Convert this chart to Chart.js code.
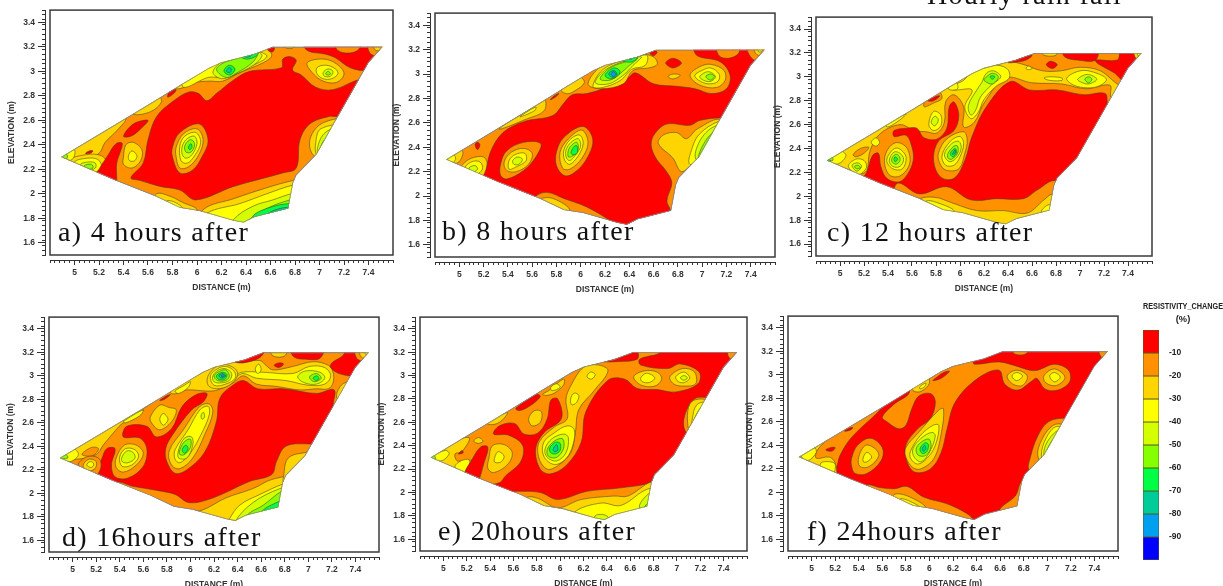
<!DOCTYPE html>
<html><head><meta charset="utf-8"><title>Resistivity change after rain fall</title>
<script src="https://cdn.jsdelivr.net/npm/chart.js@4"></script>
<style>
html,body{margin:0;padding:0;background:#fff;overflow:hidden;width:1223px;height:586px}
canvas{position:absolute;display:block;filter:blur(0.4px)}
.lab{position:absolute;font-family:"Liberation Serif",serif;font-size:28px;line-height:28px;color:#111;white-space:nowrap;letter-spacing:1.3px}
</style></head><body>
<script>
// ---------- scales and legend ----------
const xTicks = [5,5.2,5.4,5.6,5.8,6,6.2,6.4,6.6,6.8,7,7.2,7.4];
const yTicks = [1.6,1.8,2,2.2,2.4,2.6,2.8,3,3.2,3.4];
const legendTicks = [-10,-20,-30,-40,-50,-60,-70,-80,-90];
const levelColors = ['#ff0000','#ff9000','#ffd500','#ffff00','#d4ff00','#86ff00','#00ff44','#00cc99','#00a0f0','#0000ff'];
const legendBands = [-10,-10,-10,-10,-10,-10,-10,-10,-10,-10];
// survey outline (distance, elevation)
const hull = [4.89,2.3, 5.33,2.11, 5.66,1.98, 5.86,1.885, 6.02,1.86, 6.3,1.78, 6.38,1.765, 6.47,1.81, 6.745,1.88, 6.785,2.09, 6.81,2.15, 6.975,2.32, 7.15,2.63, 7.4,3.07, 7.515,3.2, 6.62,3.2, 6.46,3.14, 6.2,3.075, 6.1,3.03, 5.9,2.91, 5.59,2.72];
// ---------- contour bands per panel: [level index, [distance, elevation, ...]] ----------
const panelA = [
[1,hull],
[2,[4.85,2.27,5.06,2.27,5.2,2.33,5.25,2.42,5.35,2.52,5.42,2.62,5.3,2.65,5.0,2.45]],
[2,[4.95,2.27,5.1,2.32,5.22,2.31,5.27,2.24,5.22,2.16,5.05,2.18]],
[3,[5.0,2.26,5.1,2.29,5.19,2.28,5.22,2.22,5.15,2.17,5.05,2.2]],
[4,[5.05,2.24,5.12,2.26,5.17,2.25,5.17,2.21,5.1,2.19]],
[5,[5.08,2.23,5.14,2.24,5.15,2.21,5.1,2.2]],
[3,[4.88,2.28,4.98,2.28,5.0,2.36,4.92,2.36]],
[5,[4.86,2.3,4.93,2.33,4.94,2.29]],
[0,[5.09,2.33,5.12,2.35,5.15,2.35,5.13,2.33]],
[2,[5.48,2.65,5.62,2.67,5.71,2.75,5.68,2.8,5.5,2.72]],
[0,[5.46,2.13,5.56,2.25,5.6,2.44,5.67,2.63,5.81,2.76,5.93,2.83,6.01,2.82,6.08,2.76,6.16,2.82,6.3,2.93,6.43,3.0,6.69,3.03,6.7,3.1,6.76,3.12,6.81,3.09,6.78,3.01,6.85,2.97,6.97,2.87,7.11,2.85,7.35,2.94,7.65,2.94,7.5,2.63,7.15,2.63,7.07,2.63,6.92,2.57,6.84,2.44,6.81,2.21,6.7,2.17,6.3,2.06,5.99,1.95,5.86,2.03,5.7,2.06,5.53,2.11]],
[0,[5.18,2.15,5.33,2.06,5.345,2.25,5.39,2.41,5.34,2.41,5.27,2.31,5.2,2.2]],
[0,[5.4,2.47,5.48,2.57,5.6,2.6,5.54,2.53,5.46,2.47]],
[2,[5.4,2.3,5.42,2.4,5.48,2.42,5.55,2.36,5.54,2.27,5.47,2.21,5.4,2.24]],
[3,[5.44,2.31,5.47,2.35,5.51,2.31,5.49,2.27,5.45,2.27]],
[1,[5.8,2.38,5.86,2.5,6.02,2.57,6.09,2.44,6.04,2.3,5.96,2.19,5.86,2.17,5.8,2.3]],
[2,[5.83,2.38,5.89,2.49,6.0,2.53,6.05,2.44,6.01,2.31,5.93,2.22,5.86,2.21,5.83,2.3]],
[3,[5.86,2.39,5.9,2.47,5.99,2.5,6.03,2.42,5.98,2.31,5.92,2.25,5.87,2.27]],
[4,[5.88,2.39,5.92,2.45,5.98,2.47,6.0,2.41,5.96,2.32,5.91,2.29,5.88,2.32]],
[5,[5.9,2.39,5.94,2.44,5.97,2.43,5.98,2.39,5.95,2.34,5.91,2.34]],
[6,[5.93,2.38,5.95,2.41,5.96,2.38,5.94,2.36]],
[2,[6.9,3.07,7.03,3.1,7.14,3.06,7.2,2.98,7.14,2.91,7.03,2.92,6.94,2.99]],
[3,[6.98,3.03,7.05,3.05,7.13,3.02,7.15,2.98,7.1,2.94,7.03,2.94,6.98,2.98]],
[4,[7.03,2.99,7.07,3.02,7.11,3.0,7.09,2.96,7.04,2.96]],
[5,[7.05,2.98,7.07,3.0,7.09,2.98,7.07,2.97]],
[0,[6.87,3.25,6.9,3.17,7.05,3.14,7.13,3.11,7.25,3.03,7.39,3.01,7.6,3.1,7.6,3.25]],
[1,[7.13,3.25,7.15,3.17,7.25,3.15,7.32,3.18,7.34,3.25]],
[1,[7.4,3.25,7.42,3.14,7.55,3.14,7.55,3.25]],
[2,[7.44,3.25,7.46,3.17,7.55,3.2,7.53,3.25]],
[2,[5.83,2.86,5.99,2.91,6.1,2.92,6.21,2.92,6.35,2.99,6.54,3.07,6.61,3.13,6.55,3.2,6.3,3.25,5.8,3.0]],
[3,[5.89,2.87,6.09,2.95,6.19,2.95,6.3,2.97,6.42,3.03,6.57,3.12,6.49,3.17,6.3,3.25,5.9,3.0]],
[4,[6.13,2.99,6.2,2.94,6.3,2.97,6.46,3.05,6.53,3.13,6.46,3.17,6.3,3.13,6.19,3.07]],
[5,[6.16,3.01,6.24,2.95,6.33,2.99,6.45,3.07,6.49,3.14,6.38,3.13,6.3,3.1,6.2,3.06]],
[6,[6.22,3.0,6.27,2.97,6.31,3.02,6.26,3.05]],
[7,[6.24,3.0,6.27,2.99,6.28,3.02,6.26,3.03]],
[6,[6.36,3.12,6.42,3.1,6.5,3.14,6.48,3.17,6.4,3.17]],
[7,[6.39,3.12,6.43,3.12,6.46,3.15,6.4,3.15]],
[0,[5.76,2.79,5.8,2.81,5.83,2.85,5.78,2.84]],
[0,[6.58,3.17,6.62,3.16,6.63,3.2,6.58,3.2]],
[2,[6.7,3.22,6.73,3.19,6.78,3.19,6.8,3.22]],
[2,[5.67,2.0,5.78,1.98,5.88,1.93,6.0,1.87,5.9,1.8,5.65,1.9]],
[3,[5.75,1.94,5.82,1.93,5.88,1.88,5.75,1.86]],
[2,[6.05,1.87,6.3,1.96,6.54,2.04,6.79,2.11,6.85,2.11,6.85,1.7,6.0,1.7]],
[3,[6.08,1.84,6.35,1.92,6.57,2.0,6.78,2.07,6.85,2.07,6.85,1.7,6.0,1.7]],
[4,[6.3,1.79,6.46,1.9,6.62,1.95,6.77,2.0,6.85,2.0,6.85,1.7,6.3,1.7]],
[5,[6.41,1.77,6.55,1.87,6.76,1.95,6.85,1.95,6.85,1.7,6.41,1.7]],
[6,[6.46,1.82,6.6,1.89,6.75,1.92,6.85,1.92,6.85,1.75,6.5,1.75]],
[7,[6.58,1.84,6.74,1.89,6.8,1.85,6.6,1.8]],
[2,[7.2,2.6,7.03,2.58,6.94,2.49,6.92,2.38,6.97,2.3,7.1,2.3,7.2,2.4]],
[3,[7.2,2.55,7.01,2.53,6.97,2.42,6.98,2.32,7.1,2.3]],
[4,[7.15,2.53,7.06,2.51,7.0,2.43,6.99,2.32,7.1,2.3]],
[5,[7.1,2.47,7.04,2.44,7.01,2.38,7.0,2.32,7.1,2.3]]
];
const panelB = [
[1,hull],
[2,[5.0,2.2,5.03,2.26,5.1,2.31,5.2,2.32,5.23,2.26,5.2,2.14]],
[3,[5.05,2.23,5.1,2.28,5.17,2.28,5.19,2.22,5.12,2.17]],
[4,[5.08,2.23,5.13,2.25,5.15,2.22,5.1,2.19]],
[2,[4.86,2.3,4.99,2.4,5.03,2.35,4.98,2.27]],
[3,[4.86,2.3,4.95,2.34,4.97,2.3,4.93,2.27]],
[2,[5.33,2.55,5.6,2.73,5.7,2.8,5.7,2.7,5.55,2.63]],
[3,[5.5,2.65,5.63,2.73,5.62,2.7]],
[2,[5.84,2.87,5.98,2.98,6.03,2.93,5.93,2.85,5.88,2.84]],
[0,[5.2,2.17,5.26,2.37,5.36,2.52,5.53,2.61,5.77,2.66,5.86,2.76,5.93,2.83,6.05,2.84,6.21,2.89,6.38,2.96,6.45,3.01,6.6,2.92,6.79,2.9,6.94,2.88,7.08,2.84,7.2,2.88,7.23,2.99,7.15,3.1,6.96,3.15,6.94,3.22,7.6,3.25,7.6,2.6,7.16,2.64,6.98,2.62,6.9,2.58,6.71,2.59,6.61,2.51,6.58,2.42,6.62,2.31,6.7,2.21,6.75,2.11,6.71,1.96,6.74,1.88,6.75,1.7,6.36,1.7,6.27,1.78,6.05,1.91,5.86,1.98,5.72,2.03,5.62,1.99,5.6,1.9,5.1,2.1]],
[2,[6.64,2.43,6.68,2.5,6.79,2.52,6.87,2.47,6.96,2.55,7.15,2.62,7.2,2.3,6.94,2.27,6.83,2.2,6.76,2.31]],
[3,[6.9,2.26,6.92,2.4,6.98,2.51,7.13,2.61,7.2,2.6,7.1,2.3]],
[4,[6.95,2.3,6.98,2.45,7.1,2.57,7.2,2.55,7.1,2.3]],
[5,[6.97,2.3,7.02,2.44,7.11,2.53,7.2,2.5,7.05,2.3]],
[2,[6.9,2.99,6.98,3.06,7.07,3.08,7.18,3.03,7.19,2.95,7.12,2.89,6.98,2.91]],
[3,[6.94,2.99,7.0,3.03,7.07,3.05,7.14,3.0,7.13,2.94,7.05,2.92,6.97,2.95]],
[4,[6.98,2.98,7.05,3.02,7.11,2.98,7.07,2.94,7.01,2.95]],
[5,[7.03,2.98,7.07,3.0,7.1,2.98,7.07,2.95]],
[0,[6.7,3.09,6.76,3.13,6.83,3.09,6.76,3.05]],
[2,[6.72,2.98,6.76,3.0,6.82,2.99,6.76,2.96]],
[1,[7.12,3.25,7.14,3.15,7.22,3.13,7.3,3.17,7.3,3.25]],
[1,[7.37,3.25,7.42,3.12,7.56,3.12,7.56,3.25]],
[2,[7.43,3.25,7.45,3.16,7.56,3.16,7.53,3.25]],
[3,[7.45,3.25,7.47,3.18,7.5,3.2]],
[0,[6.57,3.17,6.6,3.19,6.63,3.18,6.6,3.15]],
[0,[5.13,2.42,5.15,2.44,5.17,2.42,5.15,2.38]],
[0,[5.75,2.79,5.79,2.81,5.82,2.84,5.78,2.82]],
[2,[6.06,2.92,6.18,3.07,6.49,3.16,6.6,3.14,6.63,3.08,6.56,3.05,6.43,3.03,6.35,2.92,6.16,2.88]],
[3,[6.1,2.9,6.2,3.05,6.49,3.15,6.55,3.15,6.53,3.07,6.42,3.04,6.33,2.95,6.18,2.89]],
[4,[6.12,2.93,6.21,3.04,6.43,3.13,6.5,3.14,6.43,3.07,6.35,2.99,6.23,2.92]],
[5,[6.16,2.96,6.24,3.05,6.4,3.11,6.47,3.13,6.4,3.07,6.32,3.0,6.24,2.95]],
[6,[6.2,2.99,6.27,3.05,6.32,3.03,6.31,2.99,6.25,2.96]],
[7,[6.23,3.0,6.27,3.03,6.3,3.0,6.27,2.97]],
[8,[6.25,3.0,6.27,3.02,6.29,3.0,6.27,2.98]],
[6,[6.35,3.11,6.42,3.15,6.47,3.14,6.42,3.1]],
[7,[6.38,3.13,6.42,3.13,6.44,3.14,6.41,3.12]],
[1,[5.34,2.26,5.39,2.37,5.53,2.44,5.67,2.43,5.63,2.32,5.53,2.21,5.39,2.14,5.34,2.17]],
[2,[5.37,2.28,5.43,2.36,5.53,2.39,5.6,2.35,5.57,2.26,5.47,2.2,5.39,2.21]],
[3,[5.41,2.29,5.46,2.34,5.54,2.35,5.55,2.29,5.47,2.24,5.41,2.22]],
[4,[5.44,2.29,5.48,2.32,5.52,2.3,5.49,2.26,5.45,2.26]],
[1,[5.8,2.36,5.86,2.48,6.02,2.57,6.1,2.46,6.04,2.29,5.93,2.18,5.86,2.17,5.8,2.25]],
[2,[5.83,2.36,5.9,2.47,6.01,2.54,6.06,2.44,6.01,2.31,5.91,2.22,5.85,2.23]],
[3,[5.86,2.37,5.91,2.46,5.99,2.5,6.02,2.43,5.98,2.33,5.91,2.26,5.87,2.29]],
[4,[5.88,2.38,5.92,2.44,5.98,2.47,6.0,2.41,5.96,2.34,5.91,2.29,5.88,2.32]],
[5,[5.9,2.38,5.94,2.43,5.97,2.44,5.98,2.39,5.95,2.34,5.9,2.32]],
[6,[5.92,2.36,5.95,2.41,5.97,2.41,5.97,2.35,5.93,2.34]],
[2,[5.65,1.97,5.77,1.98,5.91,1.88,5.75,1.8,5.6,1.9]]
];
const panelC = [
[1,hull],
[2,[4.86,2.3,5.05,2.23,5.21,2.2,5.25,2.38,5.33,2.52,5.5,2.6,5.62,2.55,5.72,2.54,5.81,2.53,5.87,2.62,5.88,2.79,5.95,2.85,6.03,2.75,6.03,2.58,6.12,2.62,6.2,2.78,6.38,2.99,6.6,2.95,6.85,2.94,7.05,2.9,7.25,2.93,7.26,2.83,7.4,2.9,7.31,2.94,7.17,3.05,7.0,3.08,6.84,3.05,6.69,3.05,6.54,3.1,6.39,3.15,6.3,3.25,6.0,3.3,4.8,2.7]],
[0,[5.21,2.18,5.27,2.34,5.32,2.36,5.34,2.25,5.39,2.15,5.49,2.12,5.56,2.18,5.61,2.3,5.6,2.41,5.55,2.51,5.45,2.5,5.45,2.55,5.56,2.57,5.64,2.57,5.7,2.49,5.81,2.48,5.89,2.57,5.91,2.75,5.95,2.79,5.99,2.68,5.95,2.55,5.82,2.46,5.78,2.3,5.84,2.16,5.95,2.15,6.04,2.3,6.1,2.5,6.22,2.75,6.42,2.96,6.58,2.89,6.81,2.89,7.03,2.85,7.21,2.86,7.24,2.76,7.4,2.7,7.2,2.3,6.9,2.0,6.79,2.13,6.64,2.05,6.53,1.98,6.31,1.98,6.09,1.97,5.89,2.08,5.66,2.02,5.48,2.11,5.4,1.95,5.1,2.1]],
[0,[6.4,3.12,6.5,3.16,6.6,3.18,6.55,3.14,6.45,3.12]],
[2,[6.68,3.22,6.7,3.18,6.8,3.18,6.8,3.22]],
[0,[6.86,3.25,6.87,3.17,6.98,3.14,7.13,3.14,7.14,3.25]],
[0,[7.13,3.14,7.31,3.14,7.33,3.2,7.33,3.25,7.6,3.25,7.6,2.95,7.36,2.97,7.29,3.03,7.15,3.11]],
[2,[7.45,3.25,7.47,3.15,7.55,3.15,7.55,3.25]],
[3,[7.48,3.25,7.49,3.17,7.55,3.2]],
[0,[6.72,3.1,6.75,3.13,6.79,3.12,6.81,3.1,6.77,3.07]],
[3,[6.55,3.07,6.57,3.09,6.6,3.07,6.57,3.06]],
[3,[6.89,2.99,7.0,3.05,7.11,3.04,7.22,2.98,7.15,2.92,7.03,2.91,6.93,2.94]],
[4,[6.98,2.98,7.06,3.02,7.14,2.98,7.07,2.94,7.0,2.96]],
[5,[7.04,2.98,7.07,3.0,7.1,2.98,7.07,2.95]],
[3,[6.7,2.99,6.75,3.0,6.85,2.99,6.85,2.97,6.75,2.97]],
[3,[6.17,3.07,6.27,3.1,6.39,3.07,6.41,2.99,6.3,2.92,6.2,2.81,6.15,2.7,6.09,2.65,6.04,2.75,6.1,2.89,5.95,2.89,5.9,2.91,6.03,2.97,6.1,3.05]],
[4,[6.18,2.95,6.22,3.03,6.28,3.05,6.34,3.0,6.26,2.93,6.17,2.83,6.13,2.72,6.09,2.68,6.07,2.76,6.14,2.89]],
[5,[6.21,2.99,6.27,3.03,6.32,3.0,6.27,2.94,6.2,2.97]],
[6,[6.25,3.0,6.27,3.01,6.29,3.0,6.27,2.98]],
[3,[5.74,2.6,5.78,2.71,5.84,2.68,5.84,2.59,5.78,2.55]],
[4,[5.76,2.62,5.79,2.67,5.82,2.64,5.79,2.59]],
[1,[5.7,2.75,5.78,2.78,5.85,2.82,5.82,2.88,5.72,2.82]],
[0,[5.73,2.8,5.78,2.83,5.83,2.84,5.78,2.8]],
[3,[5.26,2.45,5.3,2.49,5.33,2.45,5.3,2.42]],
[1,[5.11,2.35,5.17,2.4,5.24,2.41,5.2,2.36,5.13,2.33]],
[3,[5.07,2.25,5.13,2.31,5.2,2.3,5.22,2.24,5.15,2.18]],
[4,[5.1,2.26,5.15,2.28,5.18,2.25,5.14,2.21]],
[5,[5.12,2.25,5.15,2.26,5.17,2.24,5.14,2.23]],
[3,[4.87,2.3,5.0,2.38,5.05,2.34,4.98,2.27]],
[5,[4.87,2.3,4.93,2.33,4.94,2.3]],
[6,[4.88,2.3,4.91,2.31,4.92,2.29]],
[3,[5.38,2.6,5.55,2.69,5.5,2.64,5.4,2.58]],
[3,[5.9,2.91,5.97,2.95,5.98,2.9,5.92,2.89]],
[2,[5.37,2.3,5.41,2.41,5.48,2.45,5.56,2.4,5.58,2.27,5.5,2.17,5.41,2.18]],
[3,[5.39,2.3,5.44,2.39,5.49,2.4,5.55,2.33,5.52,2.23,5.44,2.23]],
[4,[5.41,2.3,5.45,2.37,5.5,2.36,5.53,2.31,5.5,2.25,5.44,2.25]],
[5,[5.43,2.31,5.46,2.35,5.49,2.34,5.5,2.3,5.47,2.27,5.44,2.28]],
[6,[5.45,2.31,5.46,2.33,5.48,2.31,5.46,2.29]],
[2,[5.82,2.36,5.89,2.48,6.03,2.54,6.06,2.47,6.04,2.36,5.99,2.23,5.88,2.22,5.83,2.28]],
[3,[5.85,2.34,5.92,2.46,6.0,2.5,6.03,2.44,6.0,2.33,5.95,2.26,5.88,2.26]],
[4,[5.87,2.35,5.93,2.44,5.99,2.46,6.01,2.4,5.97,2.32,5.91,2.29]],
[5,[5.9,2.36,5.95,2.42,5.98,2.42,5.98,2.36,5.93,2.31,5.9,2.32]],
[6,[5.92,2.36,5.96,2.4,5.97,2.36,5.94,2.33]],
[7,[5.94,2.36,5.96,2.39,5.96,2.36,5.94,2.35]],
[2,[5.67,1.98,5.8,1.99,5.92,1.95,6.14,1.88,6.36,1.88,6.56,1.86,6.7,1.97,6.77,2.02,6.85,2.0,6.85,1.7,5.7,1.7,5.6,1.9]],
[3,[5.72,1.96,5.8,1.95,5.95,1.88,5.86,1.85,5.7,1.9]],
[3,[6.68,1.88,6.75,1.93,6.78,1.85,6.7,1.83]]
];
const panelD = [
[1,hull],
[2,[4.86,2.3,5.03,2.29,5.2,2.33,5.26,2.41,5.36,2.53,5.43,2.6,5.55,2.65,5.6,2.72,5.65,2.76,5.5,2.85,5.0,2.6]],
[2,[5.66,2.65,5.74,2.75,5.82,2.73,5.88,2.71,5.84,2.61,5.74,2.54,5.67,2.6]],
[3,[5.74,2.63,5.77,2.68,5.81,2.63,5.77,2.58]],
[2,[5.84,2.85,5.97,2.88,6.15,2.87,6.23,2.88,6.36,2.94,6.45,3.0,6.56,2.93,6.73,2.91,6.93,2.88,7.07,2.89,7.17,2.89,7.21,2.94,7.21,3.03,7.17,3.09,7.04,3.12,6.87,3.08,6.7,3.05,6.64,3.09,6.59,3.13,6.45,3.12,6.36,3.12,6.2,3.2,5.8,3.0]],
[3,[6.38,2.99,6.45,3.02,6.56,2.98,6.81,2.96,7.0,2.92,7.14,2.93,7.19,3.0,7.14,3.07,7.01,3.08,6.87,3.02,6.62,3.03,6.43,3.03]],
[0,[5.2,2.17,5.25,2.3,5.29,2.38,5.36,2.38,5.33,2.24,5.36,2.14,5.47,2.13,5.6,2.23,5.63,2.38,5.57,2.47,5.43,2.48,5.46,2.57,5.63,2.57,5.71,2.48,5.84,2.55,5.93,2.74,6.05,2.84,6.14,2.85,6.11,2.78,6.01,2.71,5.85,2.5,5.79,2.38,5.8,2.27,5.87,2.17,5.97,2.2,6.12,2.35,6.22,2.61,6.25,2.81,6.36,2.92,6.45,2.96,6.57,2.89,6.79,2.89,7.07,2.85,7.22,2.88,7.22,2.72,7.4,2.7,7.2,2.4,7.01,2.42,6.81,2.4,6.73,2.27,6.69,2.16,6.5,2.1,6.19,1.96,5.99,1.92,5.87,1.99,5.74,2.02,5.51,2.06,5.37,2.09,5.3,1.95,5.1,2.1]],
[4,[6.91,2.99,6.97,3.04,7.1,3.03,7.14,2.98,7.07,2.93,6.97,2.94]],
[5,[7.01,2.99,7.07,3.02,7.11,2.98,7.05,2.95]],
[6,[7.04,2.98,7.07,3.0,7.09,2.98,7.07,2.96]],
[3,[6.55,3.06,6.58,3.1,6.6,3.05,6.57,3.02]],
[0,[6.71,3.09,6.75,3.11,6.79,3.1,6.75,3.07]],
[0,[6.38,3.12,6.5,3.17,6.62,3.2,6.58,3.15,6.45,3.11]],
[2,[6.68,3.25,6.7,3.17,6.8,3.17,6.82,3.25]],
[0,[6.85,3.25,6.88,3.16,7.0,3.14,7.1,3.15,7.13,3.25]],
[0,[7.31,3.25,7.3,3.18,7.2,3.11,7.19,3.07,7.26,3.02,7.4,3.0,7.6,3.05,7.6,3.25]],
[1,[7.4,3.25,7.42,3.14,7.55,3.14,7.55,3.25]],
[2,[7.44,3.25,7.45,3.16,7.55,3.15,7.55,3.25]],
[3,[7.47,3.25,7.49,3.18,7.52,3.2,7.52,3.25]],
[2,[7.24,2.82,7.28,2.92,7.36,2.95,7.4,2.9,7.3,2.8]],
[3,[7.28,2.84,7.31,2.9,7.35,2.92,7.32,2.84]],
[2,[6.15,3.0,6.22,3.08,6.28,3.1,6.38,3.06,6.4,3.0,6.33,2.92,6.22,2.89,6.15,2.92]],
[3,[6.17,3.0,6.23,3.06,6.3,3.08,6.37,3.04,6.38,2.98,6.3,2.93,6.2,2.92]],
[4,[6.19,3.0,6.24,3.05,6.3,3.06,6.35,3.02,6.33,2.96,6.26,2.94,6.2,2.95]],
[5,[6.2,3.0,6.25,3.04,6.3,3.05,6.33,3.0,6.3,2.96,6.23,2.96]],
[6,[6.22,3.0,6.27,3.03,6.31,3.01,6.29,2.97,6.24,2.97]],
[7,[6.24,3.0,6.27,3.02,6.3,3.0,6.27,2.98]],
[8,[6.26,3.0,6.27,3.01,6.29,3.0,6.27,2.99]],
[3,[5.87,2.87,5.95,2.92,6.0,2.95,5.98,2.9,5.9,2.85]],
[0,[5.74,2.79,5.8,2.83,5.83,2.84,5.78,2.8]],
[3,[5.43,2.61,5.6,2.71,5.57,2.66,5.45,2.6]],
[2,[5.82,2.36,5.94,2.54,6.08,2.74,6.16,2.76,6.19,2.69,6.13,2.52,6.02,2.3,5.91,2.21,5.84,2.24]],
[3,[5.87,2.37,5.98,2.54,6.08,2.71,6.15,2.74,6.16,2.67,6.09,2.5,5.99,2.33,5.91,2.26,5.87,2.29]],
[4,[5.9,2.37,5.95,2.47,6.01,2.48,6.02,2.41,5.97,2.3,5.9,2.3]],
[5,[5.91,2.37,5.95,2.44,6.0,2.46,6.0,2.39,5.95,2.33,5.91,2.33]],
[6,[5.93,2.37,5.96,2.41,5.98,2.38,5.95,2.34]],
[4,[6.09,2.66,6.11,2.69,6.12,2.65,6.1,2.63]],
[2,[5.37,2.3,5.44,2.41,5.54,2.41,5.6,2.34,5.54,2.24,5.43,2.18,5.37,2.22]],
[3,[5.4,2.31,5.45,2.38,5.53,2.37,5.56,2.31,5.5,2.24,5.42,2.23]],
[4,[5.42,2.31,5.46,2.36,5.51,2.35,5.53,2.3,5.47,2.26,5.42,2.27]],
[1,[5.08,2.33,5.16,2.39,5.22,2.38,5.17,2.32]],
[1,[5.05,2.24,5.12,2.31,5.22,2.3,5.24,2.22,5.18,2.14]],
[2,[5.09,2.24,5.14,2.29,5.2,2.27,5.19,2.21,5.12,2.19]],
[3,[5.12,2.24,5.15,2.27,5.18,2.25,5.16,2.22]],
[3,[4.87,2.3,5.0,2.38,5.05,2.33,4.98,2.27]],
[5,[4.87,2.3,4.93,2.34,4.96,2.3]],
[2,[5.9,1.85,6.08,1.85,6.3,1.96,6.53,2.04,6.7,2.12,6.85,2.12,6.85,1.7,6.0,1.7]],
[3,[6.33,1.78,6.42,1.9,6.59,1.99,6.79,2.08,6.85,2.08,6.85,1.7,6.3,1.7]],
[4,[6.38,1.76,6.53,1.92,6.76,2.04,6.85,2.04,6.85,1.7,6.4,1.7]],
[5,[6.47,1.8,6.62,1.9,6.78,2.02,6.85,2.02,6.85,1.7,6.5,1.7]],
[6,[6.6,1.84,6.75,1.93,6.85,1.96,6.85,1.75,6.6,1.75]],
[2,[6.79,2.14,6.83,2.3,6.99,2.35,7.05,2.35,6.98,2.28,6.88,2.18,6.79,2.1]]
];
const panelE = [
[1,hull],
[2,[4.86,2.3,5.0,2.4,5.22,2.47,5.16,2.35,5.1,2.33,5.12,2.27,5.25,2.27,5.2,2.17,5.0,2.2]],
[3,[4.88,2.3,5.02,2.36,5.05,2.33,4.98,2.27]],
[3,[5.1,2.22,5.15,2.27,5.22,2.28,5.22,2.22,5.18,2.17]],
[5,[4.87,2.3,4.92,2.32,4.93,2.28]],
[0,[5.13,2.33,5.16,2.36,5.17,2.34]],
[0,[5.49,2.09,5.53,2.14,5.66,2.26,5.68,2.4,5.56,2.49,5.43,2.5,5.48,2.57,5.61,2.59,5.69,2.5,5.81,2.51,5.89,2.63,5.92,2.79,5.98,2.8,6.01,2.63,5.86,2.51,5.79,2.37,5.83,2.2,5.92,2.16,6.06,2.24,6.18,2.43,6.22,2.69,6.41,2.96,6.55,2.97,6.66,2.89,6.83,2.88,6.99,2.86,7.18,2.93,7.19,3.03,7.03,3.1,6.92,3.06,6.69,3.09,6.68,3.14,6.85,3.19,6.85,3.23,7.6,3.25,7.6,2.8,7.28,2.81,7.15,2.8,7.06,2.63,7.09,2.5,7.3,2.4,7.1,2.2,6.82,2.17,6.78,2.09,6.52,2.04,6.23,2.01,5.98,1.94,5.83,2.0,5.66,2.01,5.59,2.0,5.55,1.9,5.4,2.05]],
[0,[5.18,2.14,5.28,2.08,5.35,2.26,5.38,2.39,5.32,2.39,5.25,2.29]],
[0,[5.62,2.72,5.8,2.84,5.83,2.82,5.74,2.74,5.65,2.7]],
[0,[6.38,3.12,6.52,3.16,6.66,3.2,6.66,3.14,6.5,3.12]],
[1,[7.44,3.25,7.45,3.15,7.55,3.15,7.55,3.25]],
[2,[6.2,3.07,6.33,3.09,6.41,3.04,6.29,2.87,6.16,2.71,6.13,2.51,6.09,2.34,5.98,2.23,5.89,2.2,5.82,2.29,5.82,2.43,5.95,2.56,6.06,2.63,6.05,2.8,6.09,2.91]],
[3,[6.23,2.99,6.26,3.03,6.3,3.01,6.27,2.97]],
[3,[6.09,2.8,6.12,2.85,6.16,2.83,6.14,2.77,6.1,2.75]],
[3,[5.86,2.43,5.95,2.51,6.06,2.57,6.12,2.54,6.11,2.41,6.05,2.29,5.95,2.24,5.86,2.31]],
[4,[5.87,2.37,5.93,2.46,6.03,2.5,6.07,2.47,6.05,2.34,5.97,2.27,5.89,2.3]],
[5,[5.89,2.37,5.95,2.44,6.02,2.46,6.03,2.38,5.97,2.3,5.9,2.31]],
[6,[5.91,2.38,5.96,2.43,6.0,2.42,6.0,2.36,5.96,2.33,5.92,2.34]],
[7,[5.94,2.37,5.97,2.41,5.98,2.36,5.95,2.35]],
[2,[5.73,2.63,5.78,2.7,5.84,2.69,5.83,2.6,5.76,2.57]],
[2,[5.85,2.84,5.9,2.87,6.03,2.97,6.03,2.92,5.95,2.85,5.88,2.83]],
[3,[5.92,2.9,5.97,2.93,6.0,2.9,5.93,2.87]],
[2,[5.37,2.6,5.5,2.67,5.55,2.68,5.48,2.6,5.4,2.58]],
[2,[6.63,2.99,6.72,3.04,6.83,3.03,6.87,2.97,6.81,2.91,6.69,2.92]],
[3,[6.69,2.98,6.74,3.02,6.81,2.98,6.76,2.94,6.7,2.95]],
[2,[6.94,2.99,7.05,3.06,7.15,3.03,7.16,2.93,7.05,2.91,6.97,2.93]],
[3,[6.99,2.99,7.06,3.03,7.11,2.98,7.06,2.94,7.01,2.95]],
[4,[7.03,2.98,7.06,3.0,7.09,2.98,7.06,2.96]],
[2,[7.09,2.66,7.13,2.78,7.26,2.79,7.3,2.72,7.12,2.52]],
[3,[7.13,2.62,7.17,2.75,7.26,2.77,7.3,2.7,7.13,2.55]],
[4,[7.14,2.6,7.2,2.72,7.26,2.73,7.3,2.65,7.14,2.54]],
[5,[7.17,2.6,7.22,2.7,7.24,2.68,7.17,2.58]],
[2,[5.39,2.29,5.42,2.4,5.52,2.41,5.59,2.34,5.55,2.24,5.43,2.17,5.38,2.21]],
[3,[5.44,2.3,5.47,2.35,5.52,2.31,5.49,2.26,5.44,2.26]],
[2,[5.26,2.44,5.3,2.47,5.34,2.44,5.3,2.42]],
[2,[5.72,1.96,5.81,1.95,5.98,1.87,6.18,1.94,6.46,1.97,6.58,1.97,6.78,2.09,6.85,2.05,6.85,1.7,5.9,1.7,5.7,1.9]],
[3,[6.12,1.83,6.35,1.91,6.52,1.89,6.75,2.03,6.85,2.0,6.85,1.7,6.1,1.7]],
[4,[6.3,1.8,6.4,1.8,6.45,1.7,6.3,1.7]],
[4,[6.68,1.87,6.77,2.0,6.85,2.0,6.85,1.8]],
[5,[6.72,1.86,6.77,1.92,6.85,1.9,6.8,1.82]]
];
const panelF = [
[0,hull],
[1,[4.85,2.28,5.05,2.2,5.19,2.18,5.24,2.31,5.31,2.43,5.4,2.53,5.57,2.69,5.65,2.8,5.0,2.55]],
[0,[5.28,2.52,5.33,2.53,5.35,2.55,5.3,2.54]],
[2,[4.87,2.3,5.05,2.43,5.15,2.47,5.05,2.36,5.04,2.29,5.15,2.3,5.2,2.25,5.2,2.15,5.0,2.2]],
[3,[4.88,2.3,5.02,2.38,5.04,2.34,4.97,2.27]],
[3,[5.08,2.25,5.15,2.26,5.2,2.24,5.18,2.16,5.08,2.2]],
[5,[4.87,2.3,4.91,2.31,4.92,2.28]],
[0,[5.12,2.36,5.16,2.38,5.2,2.38,5.17,2.35]],
[1,[5.83,2.85,5.7,2.75,5.6,2.64,5.64,2.6,5.74,2.54,5.8,2.57,5.85,2.71,5.91,2.82,6.01,2.84,6.05,2.77,6.01,2.63,5.9,2.54,5.8,2.4,5.81,2.26,5.88,2.17,6.01,2.2,6.1,2.34,6.15,2.54,6.22,2.77,6.41,2.97,6.59,3.04,6.64,2.92,6.75,2.87,6.86,2.94,6.91,2.97,6.98,2.88,7.09,2.87,7.19,2.94,7.18,3.04,7.06,3.09,6.92,3.04,6.85,3.04,6.72,3.08,6.59,3.11,6.38,3.09,6.37,3.12,6.3,3.25,5.8,3.0]],
[0,[6.03,2.95,6.1,2.97,6.17,3.03,6.12,3.02,6.05,2.97]],
[2,[5.87,2.86,5.93,2.86,6.0,2.93,5.97,3.0,5.85,2.9]],
[3,[5.92,2.88,5.96,2.9,5.97,2.93,5.92,2.9]],
[2,[5.8,2.38,5.9,2.5,6.08,2.7,6.12,2.71,6.1,2.5,6.04,2.29,5.93,2.2,5.86,2.21,5.8,2.3]],
[3,[5.84,2.35,5.92,2.48,6.03,2.57,6.08,2.57,6.05,2.4,5.98,2.29,5.9,2.24,5.84,2.29]],
[4,[5.86,2.37,5.93,2.46,6.02,2.51,6.05,2.48,6.0,2.34,5.93,2.26,5.87,2.3]],
[5,[5.89,2.38,5.95,2.44,6.0,2.45,6.01,2.37,5.96,2.31,5.9,2.32]],
[6,[5.92,2.37,5.96,2.42,5.99,2.41,5.98,2.35,5.94,2.33]],
[7,[5.94,2.37,5.96,2.4,5.97,2.37,5.95,2.35]],
[1,[5.34,2.29,5.39,2.4,5.5,2.46,5.6,2.38,5.59,2.27,5.47,2.16,5.37,2.16,5.34,2.22]],
[2,[5.4,2.3,5.46,2.4,5.54,2.37,5.57,2.31,5.49,2.22,5.41,2.22]],
[3,[5.44,2.3,5.47,2.34,5.51,2.3,5.47,2.26,5.44,2.26]],
[2,[6.66,2.99,6.74,3.04,6.83,2.99,6.79,2.91,6.71,2.92]],
[3,[6.7,2.99,6.74,3.02,6.79,2.99,6.74,2.95]],
[2,[6.97,2.99,7.06,3.05,7.15,2.98,7.08,2.91,6.99,2.93]],
[3,[7.02,2.99,7.06,3.02,7.11,2.98,7.06,2.94]],
[1,[6.7,3.25,6.72,3.18,6.82,3.18,6.84,3.25]],
[1,[7.44,3.25,7.46,3.15,7.55,3.15,7.55,3.25]],
[1,[6.85,2.19,6.86,2.31,6.92,2.48,7.01,2.6,7.16,2.63,7.3,2.6,7.1,2.2]],
[2,[6.92,2.31,6.96,2.46,7.05,2.57,7.13,2.58,7.3,2.55,7.0,2.2]],
[3,[6.95,2.31,6.99,2.46,7.08,2.56,7.2,2.5,7.0,2.25]],
[4,[6.97,2.34,7.02,2.46,7.11,2.53,7.2,2.45,7.0,2.25]],
[5,[7.0,2.35,7.05,2.45,7.1,2.47,7.05,2.35]],
[1,[5.47,2.06,5.58,2.04,5.7,2.03,5.81,2.05,5.95,1.96,6.18,1.89,6.37,1.77,6.3,1.7,5.4,1.95]],
[1,[6.6,1.86,6.73,1.97,6.78,2.09,6.85,2.09,6.85,1.8,6.6,1.8]],
[2,[5.7,1.98,5.81,1.97,5.97,1.87,5.85,1.84,5.7,1.9]],
[3,[5.75,1.94,5.82,1.93,5.93,1.86,5.8,1.84]]
];
// ---------- page placement of the six panels ----------
const frames = [
 {d:panelA,l:50,r:393,t:10,b:255},
 {d:panelB,l:435,r:775,t:13,b:257},
 {d:panelC,l:816,r:1152,t:17,b:256},
 {d:panelD,l:49,r:379,t:317,b:552},
 {d:panelE,l:420,r:747,t:317,b:551},
 {d:panelF,l:788,r:1118,t:316,b:551}
];
const panelLabels = [
 ['a) 4 hours after',58,241],['b) 8 hours after',442,240],['c) 12 hours after',827,241],
 ['d) 16hours after',62,546],['e) 20hours after',438,540],['f) 24hours after',807,540],
 ['Hourly rain fall',927,4]
];
Chart.defaults.font.family = '"Liberation Sans",Arial,sans-serif';
const ink = '#333';
const axisSize = 8.5;
const pts = a => { const o = []; for (let i = 0; i < a.length; i += 2) o.push({x:a[i], y:a[i+1]}); return o; };

function makePanel(f){
  const W = f.r-f.l, H = f.b-f.t, mL = 50, mT = 8, mB = 38, mR = 6;
  const c = document.createElement('canvas');
  c.width = W+mL+mR; c.height = H+mT+mB;
  c.style.left = (f.l-mL)+'px'; c.style.top = (f.t-mT)+'px';
  document.body.appendChild(c);
  const ds = f.d.map(([lv,arr],i)=>({
    data:pts(arr), showLine:true, fill:'shape', backgroundColor:levelColors[lv],
    borderColor:'#40402a', borderWidth:0.55, tension:i===0?0:0.36, pointRadius:0, pointHitRadius:0, xAxisID:'x', yAxisID:'y'
  }));
  ds.push({data:pts(hull), showLine:true, fill:false, borderColor:'#8a8a8a', borderWidth:1.6, tension:0, pointRadius:0, xAxisID:'x', yAxisID:'y'});
  const hullClip = {
    id:'hullClip',
    afterLayout(ch){
      const a = ch.chartArea, s = ch.scales;
      s.x.top = s.xm.top = a.bottom+5; s.x.bottom = s.xm.bottom = a.bottom+38;
      s.y.right = s.ym.right = a.left-5; s.y.left = s.ym.left = a.left-43;
    },
    afterDatasetsUpdate(ch){
      ch.getSortedVisibleDatasetMetas().forEach(m=>{ m.dataset._loop = true; m.dataset._fullLoop = true; });
    },
    beforeDatasetsDraw(ch){
      const g = ch.ctx, s = ch.scales, p = pts(hull);
      g.save(); g.beginPath();
      p.forEach((q,i)=>{ const X=s.x.getPixelForValue(q.x),Y=s.y.getPixelForValue(q.y); i?g.lineTo(X,Y):g.moveTo(X,Y); });
      g.closePath(); g.clip();
    },
    afterDatasetsDraw(ch){
      ch.ctx.restore();
      const a = ch.chartArea, g = ch.ctx;
      g.save(); g.strokeStyle='#3a3a3a'; g.lineWidth=1.5; g.strokeRect(a.left,a.top,a.right-a.left,a.bottom-a.top); g.restore();
    }
  };
  const axisFont = {size:axisSize, weight:'bold'};
  new Chart(c,{
    type:'scatter',
    data:{datasets:ds.reverse()},
    plugins:[hullClip],
    options:{
      responsive:false, animation:false, devicePixelRatio:1, events:[],
      layout:{padding:{left:0,top:mT,right:mR,bottom:0}},
      plugins:{legend:{display:false},tooltip:{enabled:false},title:{display:false}},
      scales:{
        x:{type:'linear',position:'bottom',min:4.8,max:7.6,
          afterBuildTicks:s=>{s.ticks=xTicks.map(v=>({value:v}));},
          afterFit:s=>{s.height=mB;},
          grid:{drawOnChartArea:false,tickLength:5,color:ink,tickWidth:1},border:{color:ink,width:1},
          ticks:{autoSkip:false,maxRotation:0,padding:3,color:'#333',font:axisFont,callback:v=>String(v)},
          title:{display:true,text:'DISTANCE (m)',color:'#333',font:axisFont,padding:0}},
        xm:{type:'linear',position:'bottom',min:4.8,max:7.6,
          afterFit:s=>{s.height=0;},
          grid:{drawOnChartArea:false,tickLength:3,color:ink,tickWidth:1},border:{color:ink,width:1},
          ticks:{display:false,stepSize:0.04,autoSkip:false,maxTicksLimit:200}},
        y:{type:'linear',position:'left',min:1.5,max:3.5,
          afterBuildTicks:s=>{s.ticks=yTicks.map(v=>({value:v}));},
          afterFit:s=>{s.width=mL;},
          grid:{drawOnChartArea:false,tickLength:7,color:ink,tickWidth:1},border:{color:ink,width:1},
          ticks:{autoSkip:false,padding:3,color:'#333',font:axisFont,callback:v=>String(v)},
          title:{display:true,text:'ELEVATION (m)',color:'#333',font:axisFont,padding:0}},
        ym:{type:'linear',position:'left',min:1.5,max:3.5,
          afterFit:s=>{s.width=0;},
          grid:{drawOnChartArea:false,tickLength:3,color:ink,tickWidth:1},border:{color:ink,width:1},
          ticks:{display:false,stepSize:0.04,autoSkip:false,maxTicksLimit:200}}
      }
    }
  });
}
frames.forEach(makePanel);

// colour scale
(function(){
  const c = document.createElement('canvas');
  c.width = 107; c.height = 290; c.style.left='1116px'; c.style.top='290px';
  document.body.appendChild(c);
  new Chart(c,{
    type:'bar',
    data:{labels:['scale'],datasets:legendBands.map((v,i)=>({data:[v],backgroundColor:levelColors[i],borderColor:'#5a5a20',borderWidth:0.8,borderSkipped:false,categoryPercentage:1,barPercentage:1}))},
    options:{
      responsive:false,animation:false,devicePixelRatio:1,events:[],
      layout:{padding:{left:27,bottom:20}},
      plugins:{legend:{display:false},tooltip:{enabled:false},
        title:{display:true,text:['RESISTIVITY_CHANGE','(%)'],color:'#222',font:{size:9.3,weight:'bold',lineHeight:1.4},padding:{top:9.5,bottom:4.5}}},
      scales:{
        x:{display:false,stacked:true},
        y:{stacked:true,position:'right',min:-100,max:0,
          afterBuildTicks:s=>{s.ticks=legendTicks.map(v=>({value:v}));},
          afterFit:s=>{s.width=64;},
          grid:{display:false},border:{display:false},
          ticks:{padding:2,color:'#222',font:{size:8.5,weight:'bold'},autoSkip:false,callback:v=>String(v)}}
      }
    }
  });
})();

panelLabels.forEach(([t,x,base])=>{
  const d = document.createElement('div');
  d.className='lab'; d.textContent=t;
  d.style.left=x+'px'; d.style.top=(base-23)+'px';
  document.body.appendChild(d);
});
</script>
</body></html>
